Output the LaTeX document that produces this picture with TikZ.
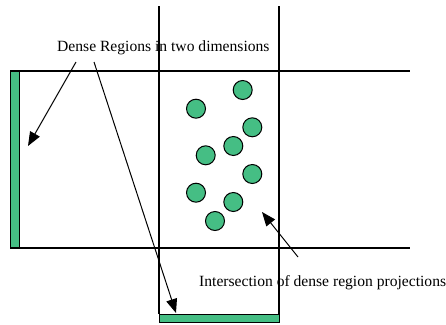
\documentclass[tikz,border=0pt]{standalone}
\usepackage{fontspec}
\setmainfont{Liberation Serif}
\usetikzlibrary{arrows.meta}
\definecolor{dgreen}{RGB}{69,190,132}
\tikzset{
  gridline/.style={draw=black,line width=1.3pt},
  pt/.style={circle,draw=black,fill=dgreen,line width=1pt,minimum size=19pt,inner sep=0pt},
  bar/.style={draw=black,fill=dgreen,line width=1pt,inner sep=0pt},
  lbl/.style={font=\fontsize{15.6}{18}\selectfont,inner sep=0pt},
  pointer/.style={draw=black,line width=1pt,-{Triangle[length=14pt,width=11pt]}}
}
\begin{document}
\begin{tikzpicture}[x=1pt,y=-1pt]
\useasboundingbox (0,0) rectangle (446,324);
% projection bars
\node[bar,minimum width=9pt,minimum height=177pt] (lbar) at (14.5,159.5) {};
\node[bar,minimum width=120pt,minimum height=8pt] (bbar) at (219,318) {};
% region boundaries
\draw[gridline] (10,71) -- (410,71);
\draw[gridline] (10,248) -- (410,248);
\draw[gridline] (159,6) -- (159,314);
\draw[gridline] (279,6) -- (279,314);
% data points
\node[pt] (p1) at (242.7,90) {};
\node[pt] (p2) at (196,108.7) {};
\node[pt] (p3) at (252.3,127.3) {};
\node[pt] (p4) at (233.3,146) {};
\node[pt] (p5) at (205.7,155.3) {};
\node[pt] (p6) at (252.3,174) {};
\node[pt] (p7) at (196,192.7) {};
\node[pt] (p8) at (233.3,202) {};
\node[pt] (p9) at (215,221) {};
% labels
\node[lbl,anchor=west] (dense) at (57,48) {Dense Regions in two dimensions};
\node[lbl,anchor=west] (inter) at (199,283) {Intersection of dense region projections};
\coordinate (a1) at (76,62);
\coordinate (a2) at (94,62);
\coordinate (a3) at (298,257);
\coordinate (t1) at (28,146);
\coordinate (t2) at (176,313);
\coordinate (t3) at (262,212);
\draw[pointer] (a1) -- (t1);
\draw[pointer] (a2) -- (t2);
\draw[pointer] (a3) -- (t3);
\end{tikzpicture}
\end{document}
